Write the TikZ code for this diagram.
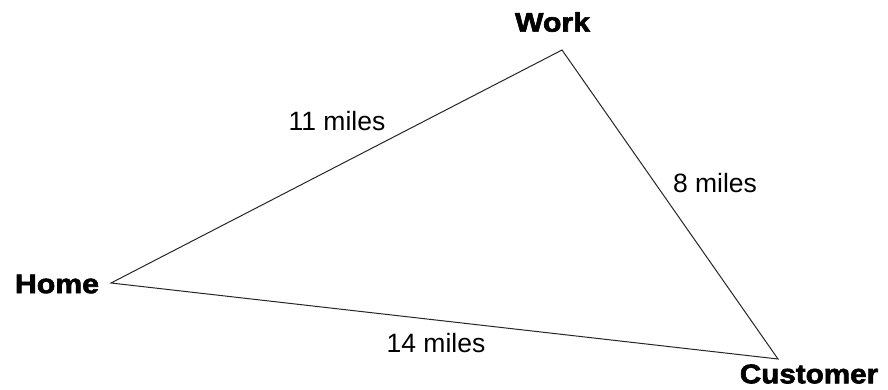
\documentclass[tikz,border=0pt]{standalone}
\usepackage{fontspec}
\setmainfont{Liberation Sans}
\newfontfamily\heavyfont[FakeBold=2.2]{Liberation Sans Bold}
\begin{document}
\begin{tikzpicture}[x=1pt,y=1pt,
  place/.style={font=\fontsize{27}{27}\selectfont\heavyfont, inner sep=0pt, xscale=1.12},
  dist/.style={font=\fontsize{26.5}{26.5}\selectfont, inner sep=0pt},
  edge/.style={draw=black!85, line width=1pt}]
\useasboundingbox (0,0) rectangle (888,389);
\coordinate (h) at (111,106);
\coordinate (w) at (562,339);
\coordinate (c) at (778,30);
\node[place] (home) at (57,105) {Home};
\node[place] (work) at (552.5,367) {Work};
\node[place, xscale=0.98] (cust) at (809,15) {Customer};
\node[dist] (hw) at (337,268) {11 miles};
\node[dist] (wc) at (715,206) {8 miles};
\node[dist] (hc) at (436,46) {14 miles};
\draw[edge] (h) -- (w) -- (c) -- cycle;
\end{tikzpicture}
\end{document}
